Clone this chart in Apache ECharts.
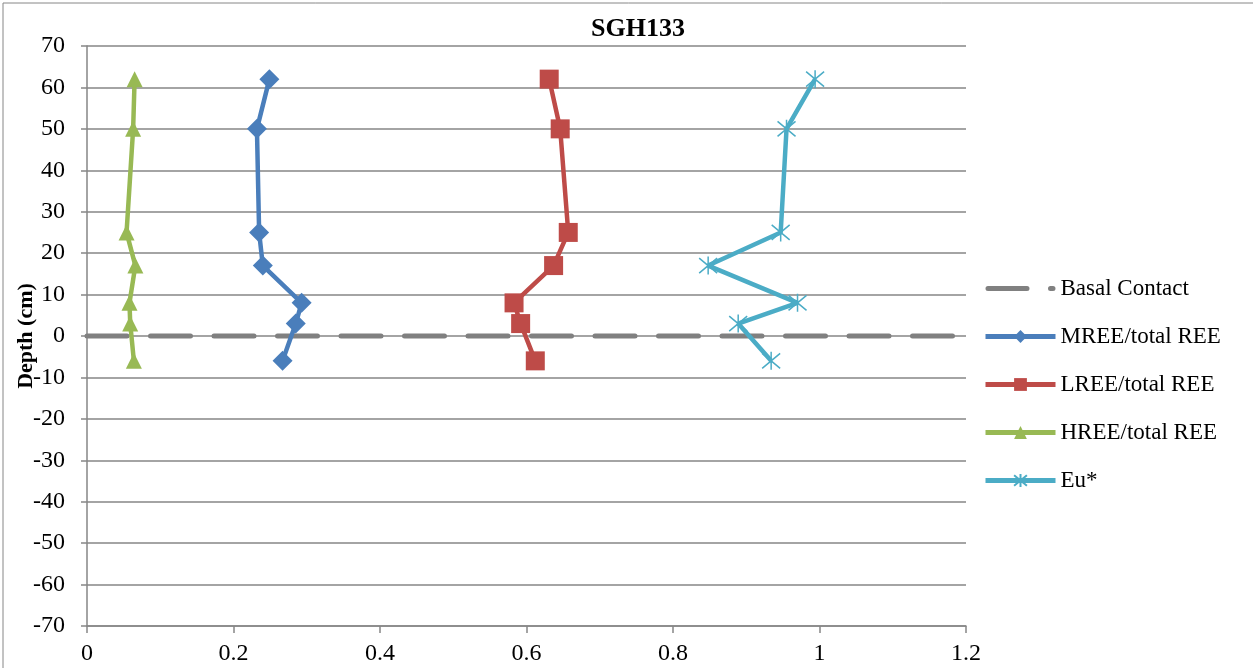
<!DOCTYPE html>
<html>
<head>
<meta charset="utf-8">
<script src="https://cdn.jsdelivr.net/npm/echarts@6/dist/echarts.min.js"></script>
<style>
  html, body { margin: 0; padding: 0; background: #fff; }
  #chart { width: 1253px; height: 668px; }
</style>
</head>
<body>
<div id="chart"></div>
<script>
// Sample depths (cm) shared by every profile
const depths = [62, 50, 25, 17, 8, 3, -6];

// Ratios at each depth
const mree = [0.249, 0.232, 0.235, 0.240, 0.293, 0.285, 0.267];
const lree = [0.631, 0.646, 0.657, 0.637, 0.583, 0.592, 0.612];
const hree = [0.065, 0.063, 0.054, 0.066, 0.058, 0.059, 0.064];
const euStar = [0.994, 0.955, 0.947, 0.848, 0.970, 0.889, 0.934];

// Basal contact drawn at 0 cm across the full x range
const basalX = [0, 1.2];
const basalDepth = 0;

const seriesNames = ['Basal Contact', 'MREE/total REE', 'LREE/total REE', 'HREE/total REE', 'Eu*'];

const pairs = (xs) => xs.map((v, i) => [v, depths[i]]);

const FONT = '"Liberation Serif", "Times New Roman", serif';
const asterisk = 'path://M0,0L10,10M10,0L0,10M5,-1L5,11';
// long dash followed by a dot, used as the legend key for the contact line
const dashDotIcon = 'path://M2.5,0H41.5A2.5,2.5,0,0,1,41.5,5H2.5A2.5,2.5,0,0,1,2.5,0Z' +
                    'M65,0H67.5A2.5,2.5,0,0,1,67.5,5H65A2.5,2.5,0,0,1,65,0Z';

const chart = echarts.init(document.getElementById('chart'), null, { renderer: 'canvas' });

chart.setOption({
  backgroundColor: '#fff',
  animation: false,
  title: {
    text: 'SGH133',
    left: 586,
    top: 11,
    textStyle: { fontFamily: FONT, fontSize: 26, fontWeight: 'bold', color: '#000' }
  },
  graphic: [{
    type: 'rect',
    shape: { x: 3, y: 3, width: 1270, height: 700 },
    style: { fill: 'none', stroke: '#868686', lineWidth: 1 },
    silent: true
  }],
  grid: { left: 87, right: 287, top: 46, bottom: 42, containLabel: false, outerBoundsMode: 'none' },
  legend: {
    orient: 'vertical',
    left: 978,
    top: 272,
    itemWidth: 70,
    itemHeight: 16,
    itemGap: 25,
    symbolKeepAspect: true,
    lineStyle: { width: 5 },
    data: [
      { name: seriesNames[0], icon: dashDotIcon, itemStyle: { color: '#808080' } },
      seriesNames[1], seriesNames[2], seriesNames[3], seriesNames[4]
    ],
    textStyle: { fontFamily: FONT, fontSize: 23, color: '#000' }
  },
  xAxis: {
    type: 'value',
    min: 0,
    max: 1.2,
    interval: 0.2,
    axisLine: { show: true, onZero: false, lineStyle: { color: '#868686', width: 1.5 } },
    axisTick: { show: true, length: 7, lineStyle: { color: '#868686', width: 1.5 } },
    splitLine: { show: false },
    axisLabel: { fontFamily: FONT, fontSize: 24, color: '#000', margin: 16 }
  },
  yAxis: {
    type: 'value',
    min: -70,
    max: 70,
    interval: 10,
    name: 'Depth (cm)',
    nameLocation: 'middle',
    nameGap: 50,
    nameMoveOverlap: false,
    nameTextStyle: { fontFamily: FONT, fontSize: 22, fontWeight: 'bold', color: '#000' },
    axisLine: { show: true, onZero: false, lineStyle: { color: '#868686', width: 1.5 } },
    axisTick: { show: true, length: 6, lineStyle: { color: '#868686', width: 1.5 } },
    splitLine: { show: true, lineStyle: { color: '#868686', width: 1.5 } },
    axisLabel: { fontFamily: FONT, fontSize: 24, color: '#000', margin: 22 }
  },
  series: [
    {
      name: seriesNames[0],
      type: 'line',
      data: basalX.map(x => [x, basalDepth]),
      symbol: 'none',
      itemStyle: { color: '#808080' },
      lineStyle: { color: '#808080', width: 5, type: [40, 23.5], cap: 'round' },
      z: 1
    },
    {
      name: seriesNames[1],
      type: 'line',
      data: pairs(mree),
      symbol: 'diamond',
      symbolSize: 20,
      itemStyle: { color: '#4a7ebb' },
      lineStyle: { color: '#4a7ebb', width: 4.5 },
      z: 3
    },
    {
      name: seriesNames[2],
      type: 'line',
      data: pairs(lree),
      symbol: 'rect',
      symbolSize: 19,
      itemStyle: { color: '#be4b48' },
      lineStyle: { color: '#be4b48', width: 4.5 },
      z: 3
    },
    {
      name: seriesNames[3],
      type: 'line',
      data: pairs(hree),
      symbol: 'triangle',
      symbolSize: 16,
      itemStyle: { color: '#98b954' },
      lineStyle: { color: '#98b954', width: 4.5 },
      z: 3
    },
    {
      name: seriesNames[4],
      type: 'line',
      data: pairs(euStar),
      symbol: asterisk,
      symbolSize: 18,
      itemStyle: { color: '#4bacc6', borderColor: '#4bacc6', borderWidth: 1.5 },
      lineStyle: { color: '#4bacc6', width: 4.5 },
      z: 3
    }
  ]
});
</script>
</body>
</html>
